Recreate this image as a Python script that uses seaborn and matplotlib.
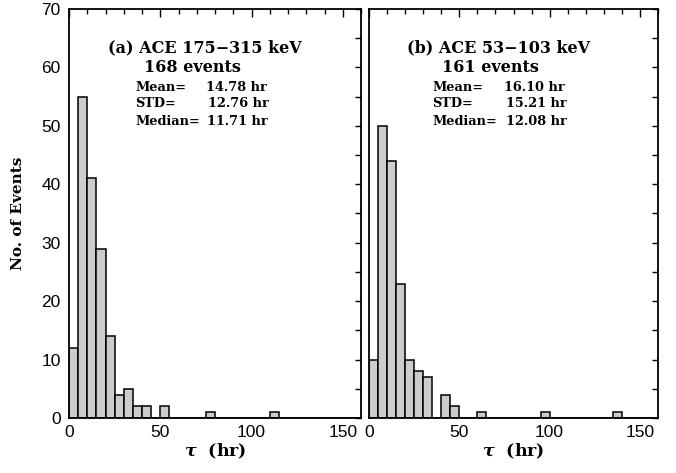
import numpy as np
import pandas as pd
import matplotlib
matplotlib.use("Agg")
import matplotlib.pyplot as plt
import seaborn as sns

# ---- data (counts per 5-hr bin, lower bin edge in hr) ----
bins_a = [0, 5, 10, 15, 20, 25, 30, 35, 40, 50, 75, 110]
counts_a = [12, 55, 41, 29, 14, 4, 5, 2, 2, 2, 1, 1]
bins_b = [0, 5, 10, 15, 20, 25, 30, 40, 45, 60, 95, 135]
counts_b = [10, 50, 44, 23, 10, 8, 7, 4, 2, 1, 1, 1]

titles = ["(a) ACE 175\u2212315 keV", "(b) ACE 53\u2212103 keV"]
n_events = ["168 events", "161 events"]
stat_names = ["Mean=", "STD=", "Median="]
stats_a = ["14.78 hr", "12.76 hr", "11.71 hr"]
stats_b = ["16.10 hr", "15.21 hr", "12.08 hr"]
x_ticks = [0, 50, 100, 150]
y_ticks = [0, 10, 20, 30, 40, 50, 60, 70]

sns.set_style("white")
plt.rcParams["font.family"] = ["Liberation Sans", "DejaVu Sans"]
plt.rcParams["mathtext.fontset"] = "dejavuserif"
for key in ["text.color", "axes.labelcolor", "xtick.color", "ytick.color", "axes.edgecolor"]:
    plt.rcParams[key] = "black"
SERIF = ["DejaVu Serif"]

fig = plt.figure(figsize=(6.76, 4.73), dpi=100)
W, H = 676, 473
def px_axes(x0, x1, ytop, ybot):
    return fig.add_axes([x0 / W, 1 - ybot / H, (x1 - x0) / W, (ybot - ytop) / H])

ax_a = px_axes(69, 361, 9, 418)
ax_b = px_axes(369, 658, 9, 418)

panels = [
    (ax_a, bins_a, counts_a, stats_a, 0, (0.466, 0.423, 0.226, [0.469, 0.476, 0.473])),
    (ax_b, bins_b, counts_b, stats_b, 1, (0.448, 0.420, 0.220, [0.467, 0.474, 0.474])),
]

for ax, b, c, st, i, pos in panels:
    df = pd.DataFrame({"tau": np.array(b, dtype=float) + 2.5, "n": c})
    sns.histplot(data=df, x="tau", weights="n", binwidth=5, binrange=(0, 160), ax=ax,
                 color="#cccccc", edgecolor="black", linewidth=1.1, alpha=1.0)
    ax.set_xlim(0, 160)
    ax.set_ylim(0, 70)
    ax.set_xticks(x_ticks)
    ax.set_xticks(np.arange(0, 161, 10), minor=True)
    ax.set_yticks(y_ticks)
    ax.set_yticks(np.arange(0, 71, 5), minor=True)
    ax.tick_params(which="both", direction="in", top=True, right=True,
                   width=1.0, color="black", labelcolor="black")
    ax.tick_params(axis="x", which="major", length=6, labelsize=12.5, pad=5)
    ax.tick_params(axis="x", which="minor", length=3.5)
    ax.tick_params(axis="y", which="major", length=4, labelsize=12.5, pad=6)
    ax.tick_params(axis="y", which="minor", length=4)
    for s in ax.spines.values():
        s.set_linewidth(1.3)
        s.set_color("black")
    ax.set_xlabel(r"$\boldsymbol{\tau}$  (hr)", family=SERIF, fontweight="bold",
                  fontsize=12.5, labelpad=1, color="black")
    ax.set_ylabel("")
    tx, ex, sx, vx = pos
    ax.text(tx, 0.905, titles[i], transform=ax.transAxes, ha="center", va="center",
            family=SERIF, fontweight="bold", fontsize=11.5, color="black")
    ax.text(ex, 0.856, n_events[i], transform=ax.transAxes, ha="center", va="center",
            family=SERIF, fontweight="bold", fontsize=11.5, color="black")
    for k, yy in enumerate([0.809, 0.768, 0.726]):
        ax.text(sx, yy, stat_names[k], transform=ax.transAxes, ha="left", va="center",
                family=SERIF, fontweight="bold", fontsize=9.3, color="black")
        ax.text(vx[k], yy, st[k], transform=ax.transAxes, ha="left", va="center",
                family=SERIF, fontweight="bold", fontsize=9.3, color="black")

ax_b.set_yticklabels([])
ax_a.set_ylabel("No. of Events", family=SERIF, fontweight="bold", fontsize=11,
                labelpad=12, color="black")

fig.savefig("out.png", dpi=100)
